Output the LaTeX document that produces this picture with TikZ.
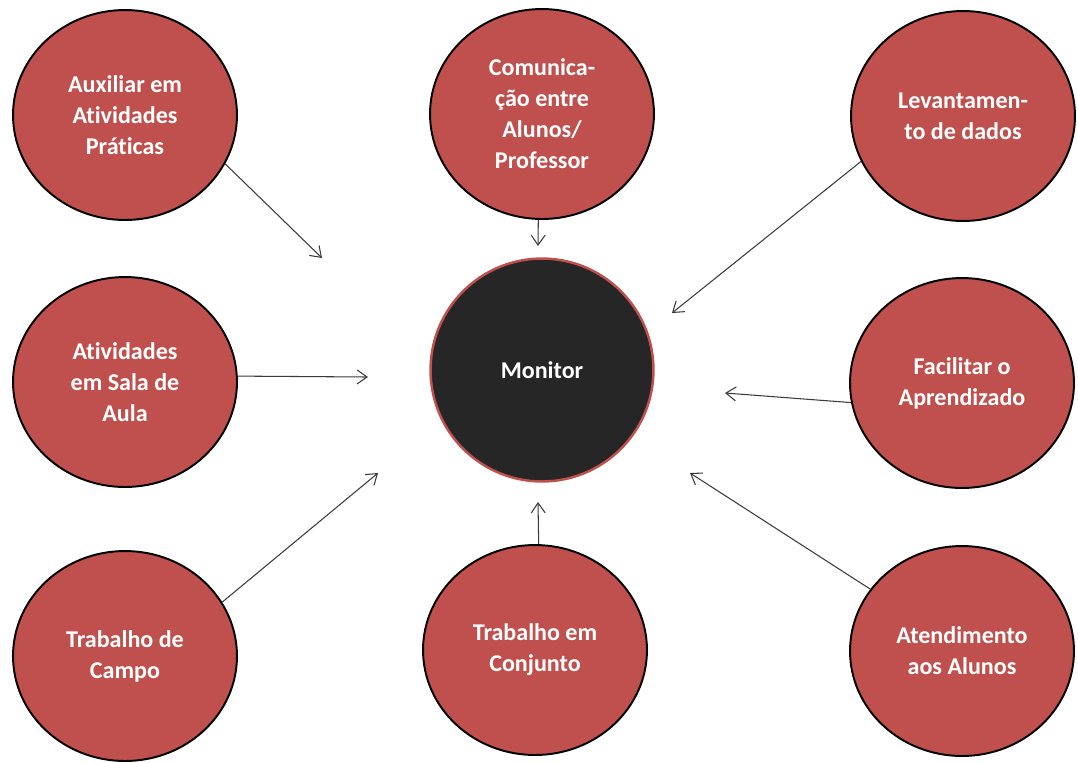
\documentclass[tikz,border=0pt]{standalone}
\usepackage{fontspec}
\setmainfont{Carlito}[Ligatures=NoCommon]
\usetikzlibrary{shapes.geometric,arrows.meta}
\definecolor{rolered}{HTML}{C0504D}
\definecolor{monitorgray}{HTML}{262626}
\definecolor{arrowgray}{HTML}{3A3A3A}

\begin{document}
\begin{tikzpicture}[>={Straight Barb[length=2mm,width=2.8mm]},x=0.02cm,y=-0.02cm,
    font=\bfseries\fontsize{13.7}{17.6}\selectfont,
    role/.style={ellipse,draw=black,line width=1.1pt,fill=rolered,text=white,
        align=center,inner sep=0pt,minimum width=4.48cm,minimum height=4.2cm},
    hub/.style={circle,draw=rolered,line width=1.4pt,fill=monitorgray,text=white,
        inner sep=0pt,minimum size=4.46cm}]
    \useasboundingbox (0,0) rectangle (1078,762);
    \node [hub] (monitor) at (542,370) {Monitor};
    \node [role] (aux) at (125,115) {Auxiliar em\\Atividades\\Práticas};
    \node [role] (com) at (542,114) {Comunica-\\ção entre\\Alunos/\\Professor};
    \node [role] (lev) at (963,116) {Levantamen-\\to de dados};
    \node [role] (sala) at (125,382) {Atividades\\em Sala de\\Aula};
    \node [role] (facil) at (962,383) {Facilitar o\\Aprendizado};
    \node [role] (campo) at (125,656) {Trabalho de\\Campo};
    \node [role] (conj) at (535,650) {Trabalho em\\Conjunto};
    \node [role] (atend) at (962,651) {Atendimento\\aos Alunos};
    % free ends of the arrows, short of the monitor
    \coordinate (auxend) at (322,258);
    \coordinate (comend) at (538,246);
    \coordinate (levend) at (672,313);
    \coordinate (salaend) at (368,377);
    \coordinate (facilend) at (725,393);
    \coordinate (campoend) at (378,473);
    \coordinate (conjend) at (538,502);
    \coordinate (atendend) at (690,473);
    \foreach \from/\ang/\to in {aux/-26/auxend,com/-92/comend,lev/-156/levend,
        sala/3/salaend,facil/190/facilend,campo/29/campoend,conj/88/conjend,
        atend/146/atendend}
        \draw [->,arrowgray,line width=.6pt] (\from.\ang) -- (\to);
\end{tikzpicture}
\end{document}
